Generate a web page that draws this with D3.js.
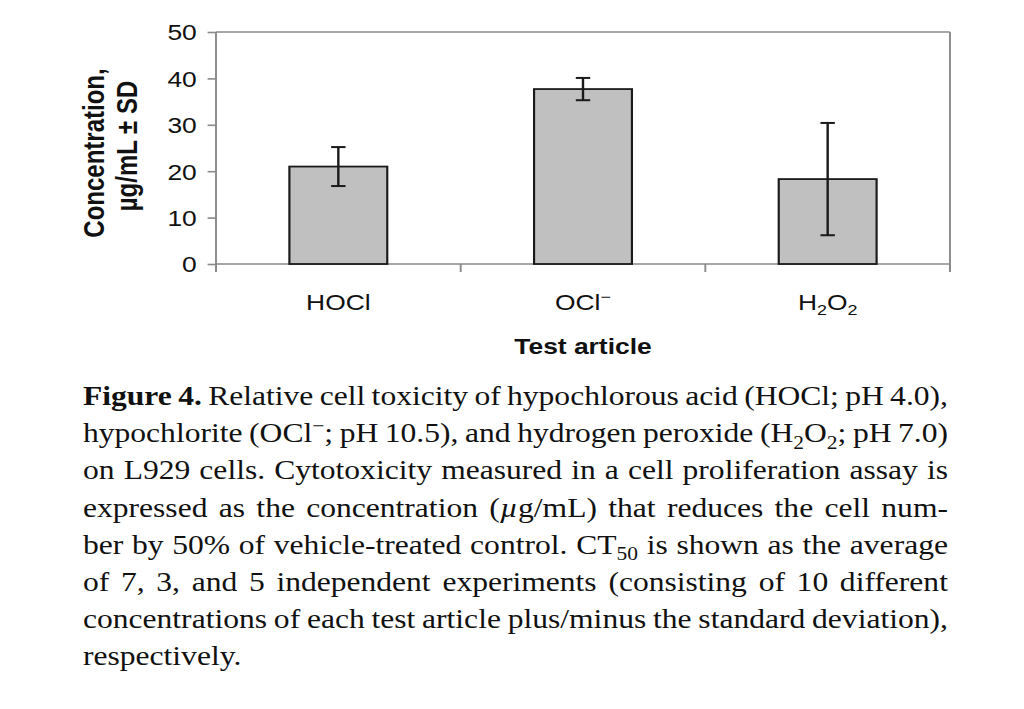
<!DOCTYPE html>
<html>
<head>
<meta charset="utf-8">
<script src="https://cdn.jsdelivr.net/npm/d3@7"></script>
<style>
  html, body { margin: 0; padding: 0; background: #fff; }
  svg { display: block; }
</style>
</head>
<body>
<svg id="chart" width="1024" height="709"></svg>
<script>
// ---------------- data ----------------
const categories = ["HOCl", "OCl^{−}", "H_{2}O_{2}"];
const means = [21.0, 37.7, 18.3];
const sds = [4.2, 2.4, 12.1];
const yTicks = [0, 10, 20, 30, 40, 50];
const yTitleLines = ["Concentration,", "µg/mL ± SD"];
const xTitle = "Test article";
const captionLines = [
  "*{Figure} *{4.} Relative cell toxicity of hypochlorous acid (HOCl; pH 4.0),",
  "hypochlorite (OCl^{−}; pH 10.5), and hydrogen peroxide (H_{2}O_{2}; pH 7.0)",
  "on L929 cells. Cytotoxicity measured in a cell proliferation assay is",
  "expressed as the concentration (~{µ}g/mL) that reduces the cell num-",
  "ber by 50% of vehicle-treated control. CT_{50} is shown as the average",
  "of 7, 3, and 5 independent experiments (consisting of 10 different",
  "concentrations of each test article plus/minus the standard deviation),",
  "respectively."
];

// ---------------- helpers ----------------
function parse(str) {
  const parts = str.split(/(\*\{[^}]*\}|_\{[^}]*\}|\^\{[^}]*\}|~\{[^}]*\})/).filter(s => s.length);
  return parts.map(p => {
    const m = p.match(/^([*_^~])\{([^}]*)\}$/);
    if (!m) return { t: p, s: "n" };
    return { t: m[2], s: { "*": "b", "_": "sub", "^": "sup", "~": "i" }[m[1]] };
  });
}
function addRich(textSel, str, fs) {
  const segs = parse(str);
  let shift = 0;
  segs.forEach(seg => {
    const ts = textSel.append("tspan").text(seg.t);
    let target = 0;
    if (seg.s === "sub") { ts.attr("font-size", fs * 0.68); target = fs * 0.24; }
    else if (seg.s === "sup") { ts.attr("font-size", fs * 0.68); target = -fs * 0.38; }
    else if (seg.s === "b") ts.attr("font-weight", "bold");
    else if (seg.s === "i") ts.attr("font-style", "italic");
    if (target - shift !== 0) ts.attr("dy", target - shift);
    shift = target;
  });
}

const svg = d3.select("#chart");
svg.append("rect").attr("width", 1024).attr("height", 709).attr("fill", "#fff");

// ---------------- chart (figure is horizontally stretched) ----------------
const sx = 1.2;
const g = svg.append("g").attr("transform", `scale(${sx},1)`);
const x0 = 216 / sx, x1 = 950 / sx;
const yTop = 32, yBot = 264;
const axisGray = "#8a8a8a";

const x = d3.scaleBand().domain(categories).range([x0, x1]).paddingInner(0.6).paddingOuter(0.3);
const y = d3.scaleLinear().domain([0, 50]).range([yBot, yTop]);

// frame (top and right)
g.append("line").attr("x1", x0).attr("x2", x1).attr("y1", y(50)).attr("y2", y(50))
  .attr("stroke", axisGray).attr("stroke-width", 1.6);
g.append("line").attr("x1", x1).attr("x2", x1).attr("y1", y(50)).attr("y2", y(0) + 8)
  .attr("stroke", axisGray).attr("stroke-width", 1.6);

// y axis
const yAxis = g.append("g").attr("transform", `translate(${x0},0)`)
  .call(d3.axisLeft(y).tickValues(yTicks).tickSize(7).tickSizeOuter(0).tickPadding(9));
yAxis.select(".domain").attr("stroke", axisGray).attr("stroke-width", 1.6)
  .attr("d", `M0,${y(50)}V${y(0) + 8}`);
yAxis.selectAll(".tick line").attr("stroke", axisGray).attr("stroke-width", 1.6);
yAxis.selectAll(".tick text").attr("font-family", "Liberation Sans, Arial, sans-serif")
  .attr("font-size", 22).attr("fill", "#111").attr("dy", "0.36em");

// x axis line with boundary ticks
g.append("line").attr("x1", x0).attr("x2", x1).attr("y1", y(0)).attr("y2", y(0))
  .attr("stroke", axisGray).attr("stroke-width", 1.6);
g.selectAll(".xb").data(d3.range(categories.length + 1)).join("line")
  .attr("x1", i => x0 + i * x.step()).attr("x2", i => x0 + i * x.step())
  .attr("y1", y(0)).attr("y2", y(0) + 8)
  .attr("stroke", axisGray).attr("stroke-width", 1.6);

// category labels via axis positions
const xAxis = g.append("g").attr("transform", `translate(0,${y(0)})`)
  .call(d3.axisBottom(x).tickSize(0).tickFormat(""));
xAxis.select(".domain").remove();
xAxis.selectAll(".tick").each(function (d) {
  const t = d3.select(this).append("text")
    .attr("y", 46).attr("text-anchor", "middle")
    .attr("font-family", "Liberation Sans, Arial, sans-serif")
    .attr("font-size", 22).attr("fill", "#111");
  addRich(t, d, 22);
});

// bars
g.selectAll(".bar").data(categories).join("rect")
  .attr("x", d => x(d)).attr("width", x.bandwidth())
  .attr("y", (d, i) => y(means[i])).attr("height", (d, i) => y(0) - y(means[i]))
  .attr("fill", "#c0c0c0").attr("stroke", "#1a1a1a").attr("stroke-width", 1.8);

// error bars
const capHalf = 6;
categories.forEach((c, i) => {
  const cx = x(c) + x.bandwidth() / 2;
  const eg = g.append("g").attr("stroke", "#1a1a1a").attr("stroke-width", 2);
  eg.append("line").attr("x1", cx).attr("x2", cx).attr("y1", y(means[i] + sds[i])).attr("y2", y(means[i] - sds[i]));
  eg.append("line").attr("x1", cx - capHalf).attr("x2", cx + capHalf).attr("y1", y(means[i] + sds[i])).attr("y2", y(means[i] + sds[i]));
  eg.append("line").attr("x1", cx - capHalf).attr("x2", cx + capHalf).attr("y1", y(means[i] - sds[i])).attr("y2", y(means[i] - sds[i]));
});

// axis titles
const yMid = (yTop + yBot) / 2 + 5;
[87, 114].forEach((bx, i) => {
  g.append("text").attr("transform", `translate(${bx},${yMid - i * 7}) rotate(-90)`)
    .attr("text-anchor", "middle").attr("font-family", "Liberation Sans, Arial, sans-serif")
    .attr("font-weight", "bold").attr("font-size", 24).attr("fill", "#111")
    .text(yTitleLines[i]);
});
g.append("text").attr("x", (x0 + x1) / 2).attr("y", 354).attr("text-anchor", "middle")
  .attr("font-family", "Liberation Sans, Arial, sans-serif").attr("font-weight", "bold")
  .attr("font-size", 22).attr("fill", "#111").text(xTitle);

// ---------------- caption (justified) ----------------
const capX = 83, capW = 865, fs = 27, base0 = 405, lh = 37.2;
const capG = svg.append("g").attr("font-family", "Liberation Serif, Times New Roman, serif")
  .attr("font-size", fs).attr("fill", "#111");

const sp = capG.append("text").text("a a");
const sp2 = capG.append("text").text("aa");
const spaceW = sp.node().getComputedTextLength() - sp2.node().getComputedTextLength();
sp.remove(); sp2.remove();

const lineData = captionLines.map((ln, li) => {
  const words = ln.split(" ");
  return words.map(w => {
    const t = capG.append("text").attr("y", base0 + li * lh);
    addRich(t, w, fs);
    return { el: t, w: t.node().getComputedTextLength() };
  });
});
// tightest line sets the horizontal scale
const natural = lineData.slice(0, -1).map(ws => d3.sum(ws, d => d.w) + (ws.length - 1) * spaceW * 0.8);
const maxNat = d3.max(natural);
const s = capW / maxNat;
capG.attr("transform", `translate(${capX},0) scale(${s},1)`);
const L = capW / s;
lineData.forEach((ws, li) => {
  const sumW = d3.sum(ws, d => d.w);
  const last = li === lineData.length - 1;
  const gap = last ? spaceW * 0.8 : (L - sumW) / (ws.length - 1);
  let cx = 0;
  ws.forEach(d => { d.el.attr("x", cx); cx += d.w + gap; });
});
</script>
</body>
</html>
